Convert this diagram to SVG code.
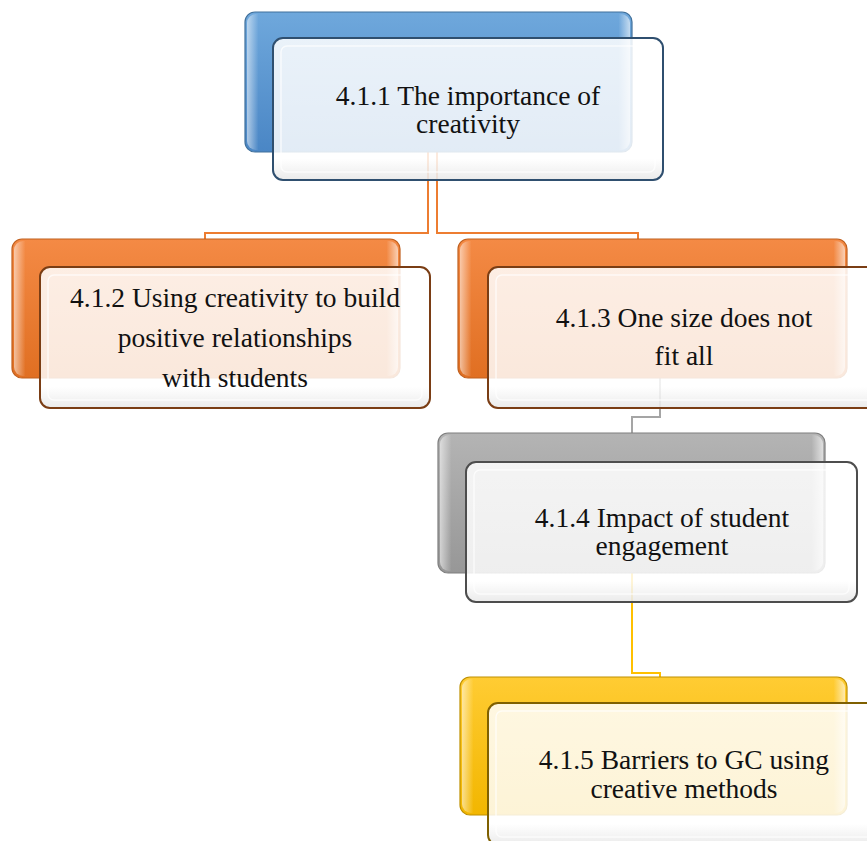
<svg xmlns="http://www.w3.org/2000/svg" width="867" height="841" viewBox="0 0 867 841">
<defs>
<linearGradient id="gBlue" x1="0" y1="0" x2="0" y2="1"><stop offset="0" stop-color="#6fa8dc"/><stop offset="1" stop-color="#4a86c5"/></linearGradient>
<linearGradient id="gOrange" x1="0" y1="0" x2="0" y2="1"><stop offset="0" stop-color="#f48a45"/><stop offset="1" stop-color="#e06f22"/></linearGradient>
<linearGradient id="gGray" x1="0" y1="0" x2="0" y2="1"><stop offset="0" stop-color="#b4b4b4"/><stop offset="1" stop-color="#979797"/></linearGradient>
<linearGradient id="gYellow" x1="0" y1="0" x2="0" y2="1"><stop offset="0" stop-color="#ffcc33"/><stop offset="1" stop-color="#f2b600"/></linearGradient>
<linearGradient id="edge" x1="0" y1="0" x2="1" y2="0"><stop offset="0" stop-color="#fff" stop-opacity="0.55"/><stop offset="0.03" stop-color="#fff" stop-opacity="0"/><stop offset="0.97" stop-color="#fff" stop-opacity="0"/><stop offset="1" stop-color="#fff" stop-opacity="0.6"/></linearGradient>
<linearGradient id="frontShade" x1="0" y1="0" x2="0" y2="1"><stop offset="0" stop-color="#ffffff" stop-opacity="0.86"/><stop offset="0.85" stop-color="#ffffff" stop-opacity="0.84"/><stop offset="1" stop-color="#e8e8e8" stop-opacity="0.9"/></linearGradient>
</defs>
<style>
.conn{fill:none;stroke-width:2}
.back{stroke-width:1.2}
.front{fill:url(#frontShade);stroke-width:2}
.bevel{fill:none;stroke:#ffffff;stroke-opacity:0.7;stroke-width:1.5}
.edge{fill:url(#edge);stroke:none}
.t{font-family:"Liberation Serif","Times New Roman",serif;font-size:27.5px;fill:#111;text-anchor:middle}
</style>
<g id="connectors">
<polyline class="conn" stroke="#ed7d31" points="428,152 428,233 205,233 205,239"/>
<polyline class="conn" stroke="#ed7d31" points="437,152 437,233 638,233 638,239"/>
<polyline class="conn" stroke="#a5a5a5" points="660,378 660,417 632,417 632,433"/>
<polyline class="conn" stroke="#ffc000" points="632,573 632,673 660,673 660,677"/>
</g>
<g id="node1">
<rect class="back" x="245" y="12" width="387" height="140" rx="10" fill="url(#gBlue)" stroke="#41719c"/>
<rect class="edge" x="247" y="14" width="383" height="136" rx="9"/>
<rect class="front" x="273" y="38" width="390" height="142" rx="10" stroke="#2f4f6f"/>
<rect class="bevel" x="281" y="46" width="374" height="126" rx="6"/>
<text class="t" x="468" y="104.5">4.1.1 The importance of</text>
<text class="t" x="468" y="133">creativity</text>
</g>
<g id="node2">
<rect class="back" x="12" y="239" width="388" height="139" rx="10" fill="url(#gOrange)" stroke="#c0601f"/>
<rect class="edge" x="14" y="241" width="384" height="135" rx="9"/>
<rect class="front" x="40" y="267" width="390" height="141" rx="10" stroke="#7a3d14"/>
<rect class="bevel" x="48" y="275" width="374" height="125" rx="6"/>
<text class="t" x="235" y="307">4.1.2 Using creativity to build</text>
<text class="t" x="235" y="347">positive relationships</text>
<text class="t" x="235" y="387">with students</text>
</g>
<g id="node3">
<rect class="back" x="458" y="239" width="389" height="139" rx="10" fill="url(#gOrange)" stroke="#c0601f"/>
<rect class="edge" x="460" y="241" width="385" height="135" rx="9"/>
<rect class="front" x="488" y="267" width="392" height="141" rx="10" stroke="#7a3d14"/>
<rect class="bevel" x="496" y="275" width="376" height="125" rx="6"/>
<text class="t" x="684" y="327">4.1.3 One size does not</text>
<text class="t" x="684" y="365">fit all</text>
</g>
<g id="node4">
<rect class="back" x="438" y="433" width="387" height="140" rx="10" fill="url(#gGray)" stroke="#7f7f7f"/>
<rect class="edge" x="440" y="435" width="383" height="136" rx="9"/>
<rect class="front" x="466" y="462" width="391" height="140" rx="10" stroke="#4d4d4d"/>
<rect class="bevel" x="474" y="470" width="375" height="124" rx="6"/>
<text class="t" x="662" y="526.5">4.1.4 Impact of student</text>
<text class="t" x="662" y="555">engagement</text>
</g>
<g id="node5">
<rect class="back" x="460" y="677" width="387" height="138" rx="10" fill="url(#gYellow)" stroke="#bf9000"/>
<rect class="edge" x="462" y="679" width="383" height="134" rx="9"/>
<rect class="front" x="488" y="703" width="392" height="142" rx="10" stroke="#7f6000"/>
<rect class="bevel" x="496" y="711" width="376" height="126" rx="6"/>
<text class="t" x="684" y="769">4.1.5 Barriers to GC using</text>
<text class="t" x="684" y="797.5">creative methods</text>
</g>
</svg>
